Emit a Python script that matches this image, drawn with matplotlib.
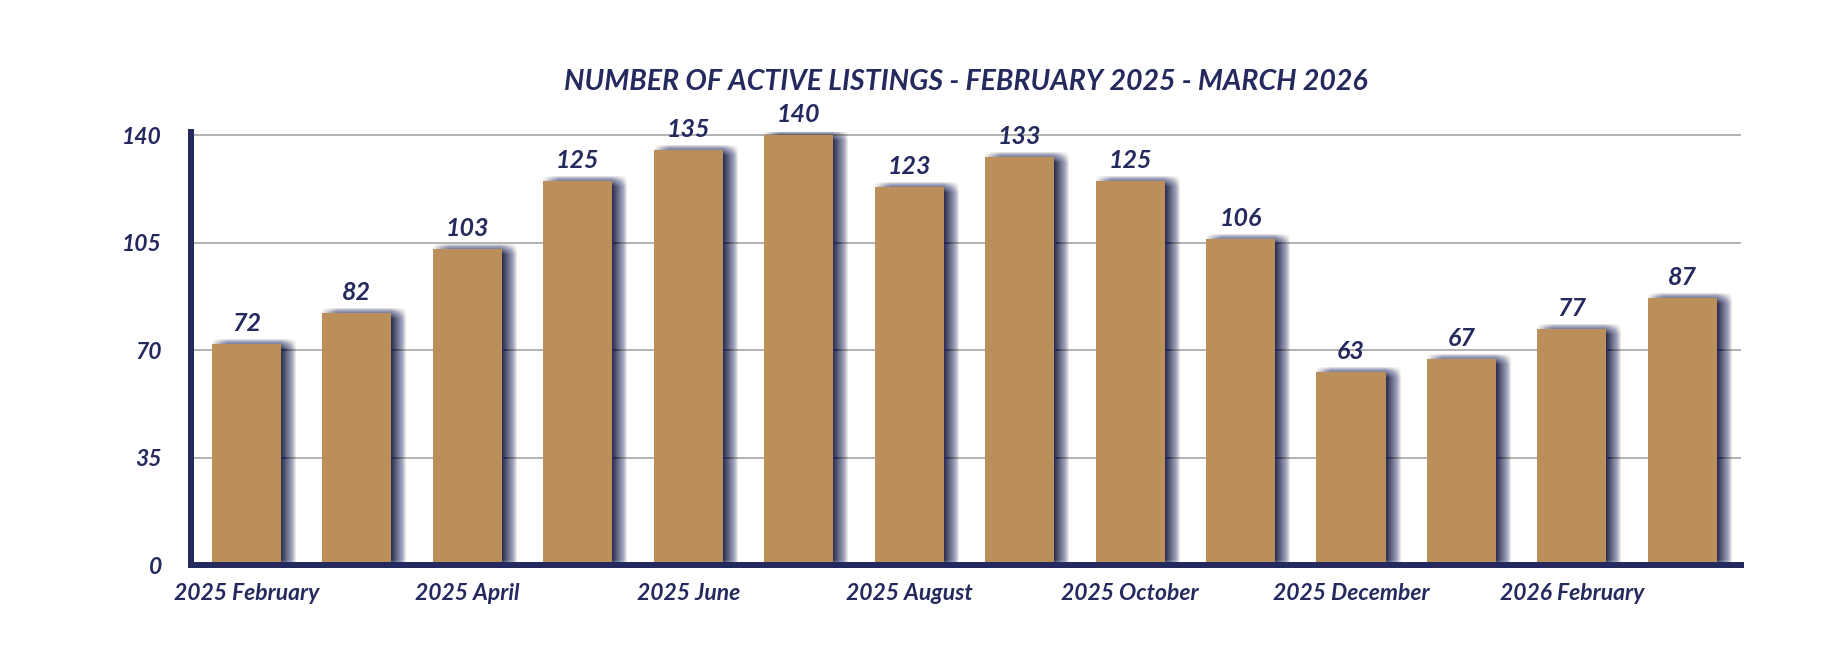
import matplotlib
matplotlib.use("Agg")
import matplotlib.pyplot as plt
from matplotlib import patheffects as pe

months = ["2025 February", "2025 March", "2025 April", "2025 May", "2025 June",
          "2025 July", "2025 August", "2025 September", "2025 October",
          "2025 November", "2025 December", "2026 January", "2026 February",
          "2026 March"]
listings = [72, 82, 103, 125, 135, 140, 123, 133, 125, 106, 63, 67, 77, 87]
yticks = [0, 35, 70, 105, 140]
title = "NUMBER OF ACTIVE LISTINGS - FEBRUARY 2025 - MARCH 2026"

NAVY = "#252a5e"
BAR = "#bb8f5a"
GRID = "#b3b3b3"
FONT = ["Lato", "DejaVu Sans"]

W, H = 1840, 668
fig = plt.figure(figsize=(W / 100, H / 100), dpi=100)
ax = fig.add_axes([191 / W, 1 - 565 / H, (1741 - 191) / W, 433 / H])

x = list(range(len(months)))

# blurred shadow approximation
shadows = []
px = 0.72  # points per pixel at dpi 100
for dx in range(0, 16):
    for dy in range(-5, 6):
        shadows.append(pe.SimplePatchShadow(offset=(dx * px, dy * px),
                                            shadow_rgbFace=NAVY, alpha=0.0075))
shadow_bars = ax.bar(x, listings, width=0.625, color=BAR, zorder=2)
for b in shadow_bars:
    b.set_path_effects(shadows)
    b.set_facecolor("none")
ax.bar(x, listings, width=0.625, color=BAR, zorder=3)

for xi, v in zip(x, listings):
    ax.annotate(str(v), (xi, v), xytext=(0, 13 * px), textcoords="offset points",
                ha="center", va="baseline", fontsize=18, fontweight="bold",
                fontstyle="italic", color=NAVY, family=FONT, zorder=5)

ax.set_xlim(-0.5, 13.53)
ax.set_ylim(0, 141)
ax.set_yticks(yticks)
ax.set_yticklabels([str(t) for t in yticks])
ax.set_xticks(x[::2])
ax.set_xticklabels(months[::2])
for lab in ax.get_xticklabels() + ax.get_yticklabels():
    lab.set_fontsize(16.5)
    lab.set_fontweight("bold")
    lab.set_fontstyle("italic")
    lab.set_color(NAVY)
    lab.set_family(FONT)
ax.tick_params(axis="both", length=0)
ax.tick_params(axis="y", pad=21)
ax.tick_params(axis="x", pad=13)

ax.yaxis.grid(True, color=GRID, linewidth=2 * px, zorder=0)
ax.set_axisbelow(True)
for s in ["top", "right"]:
    ax.spines[s].set_visible(False)
ax.spines["left"].set_linewidth(6 * px)
ax.spines["left"].set_color(NAVY)
ax.spines["bottom"].set_linewidth(6 * px)
ax.spines["bottom"].set_color(NAVY)
ax.spines["left"].set_zorder(6)
ax.spines["bottom"].set_zorder(6)

fig.text((191 + 1741) / 2 / W, 1 - 81.5 / H, title, ha="center", va="center",
         fontsize=20.5, fontweight="bold", fontstyle="italic", color=NAVY,
         family=FONT)

fig.savefig("out.png", dpi=100, facecolor="white")
